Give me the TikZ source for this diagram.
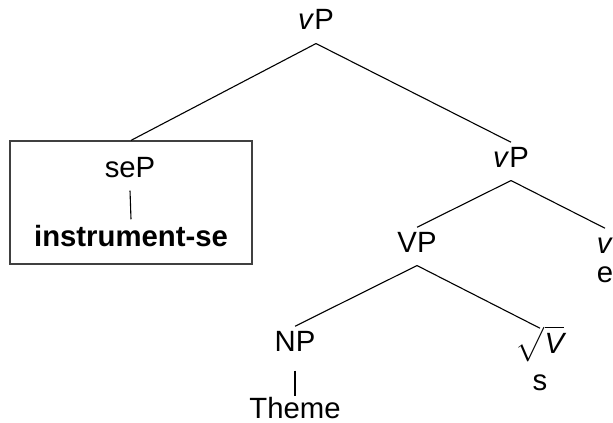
\documentclass[tikz,border=0pt]{standalone}
\usepackage{amsmath}
\usepackage{fontspec}
\setmainfont{Liberation Sans}
\usepackage{tikz}
\usetikzlibrary{positioning}

\begin{document}
\begin{tikzpicture}[x=0.5pt, y=-0.5pt, line width=0.55pt,
    cat/.style={anchor=base, inner xsep=0pt, inner ysep=1.5pt,
                text height=10.6pt, text depth=5pt,
                font=\fontsize{14.65}{17}\selectfont},
    leaf/.style={cat, text depth=0pt, inner ysep=2.5pt},
    boxed/.style={draw=black!75, line width=0.6pt, inner sep=0pt,
                  minimum width=121pt, minimum height=61.5pt}]
    \useasboundingbox (0,0) rectangle (613,422);

    % top
    \node[cat] (vP) at (316, 30) {\textit{v}P};

    % boxed adjunct
    \node[boxed] (box) at (131, 202.5) {};
    \node[cat] (seP) at (130, 177) {seP};
    \node[leaf] (inst) at (131, 246) {\textbf{instrument-se}};

    % lower vP
    \node[cat] (vPb) at (511, 167) {\textit{v}P};
    \node[cat] (VP) at (417, 252) {VP};
    \node[cat] (vhead) at (605, 253) {\textit{v}};
    \node[leaf] (e) at (605, 282) {e};

    \node[cat, text depth=8pt] (NP) at (295, 351) {NP};
    \node[leaf, inner ysep=0pt] (theme) at (295, 418) {Theme};
    \node[cat] (rootV) at (540, 353) {$\sqrt{\mathstrut\textit{V}}$};
    \node[leaf] (s) at (540, 390) {s};

    \draw (vP.south) -- (box.north);
    \draw (vP.south) -- (vPb.north);
    \draw (seP.south) -- (inst.north);
    \draw (vPb.south) -- (VP.north);
    \draw (vPb.south) -- (vhead.north);
    \draw (VP.south) -- (NP.north);
    \draw (VP.south) -- (rootV.north);
    \draw (NP.south) -- (theme.north);

\end{tikzpicture}
\end{document}
